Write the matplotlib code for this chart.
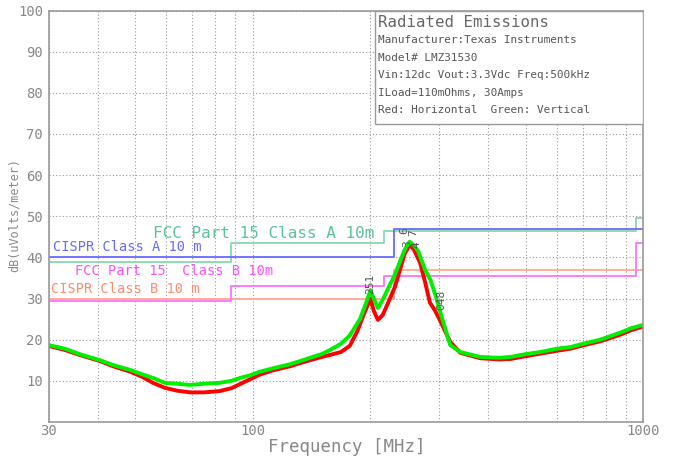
import numpy as np
import matplotlib
matplotlib.use("Agg")
import matplotlib.pyplot as plt
from matplotlib.patches import Rectangle

freq_green = [30, 33, 36, 40.6, 44, 48.3, 52, 55.5, 59.5, 64, 69, 75, 82, 88,
              92.6, 98, 104, 112, 124, 132, 140, 150, 157.6, 168, 177, 188, 195,
              200, 204, 209, 215, 222, 231, 238, 245, 252, 258, 265, 276, 285,
              293, 305, 320, 340, 382, 427, 456, 500, 544, 600, 650, 700, 775,
              872, 930, 1000]
green_db = [18.7, 17.8, 16.5, 15.0, 13.8, 12.7, 11.6, 10.7, 9.5, 9.3, 9.0, 9.3,
            9.5, 10.0, 10.7, 11.3, 12.2, 13.0, 14.0, 14.8, 15.6, 16.5, 17.5,
            19.0, 21.0, 25.0, 29.0, 32.0, 30.0, 27.7, 29.7, 32.5, 35.8, 39.0,
            42.0, 43.8, 43.0, 41.5, 37.0, 34.5, 31.0, 25.3, 18.7, 17.0, 15.8,
            15.6, 15.8, 16.5, 17.0, 17.8, 18.2, 19.0, 20.0, 21.7, 22.8, 23.6]

freq_red = [30, 33, 36, 40.6, 44, 48.3, 52, 55.5, 59.5, 64, 69, 75, 82, 88,
            92.6, 98, 104, 112, 124, 132, 140, 150, 157.6, 168, 177, 185, 192,
            200, 204, 209, 215, 222, 231, 238, 245, 252, 258, 268, 276, 284,
            293, 301, 320, 340, 382, 427, 456, 500, 544, 600, 650, 700, 775,
            872, 930, 1000]
red_db = [18.5, 17.5, 16.3, 14.8, 13.5, 12.3, 11.0, 9.5, 8.3, 7.6, 7.2, 7.2,
          7.5, 8.2, 9.2, 10.3, 11.5, 12.5, 13.5, 14.3, 15.0, 15.8, 16.3, 17.0,
          18.5, 22.0, 26.0, 30.0, 27.0, 24.8, 26.0, 29.0, 32.8, 37.0, 41.0,
          43.0, 42.0, 38.7, 34.0, 29.0, 27.0, 24.8, 19.5, 16.8, 15.5, 15.2,
          15.3, 16.0, 16.6, 17.3, 17.8, 18.6, 19.6, 21.2, 22.3, 23.2]

# limit lines (step edges in MHz, levels in dBuV/m)
cispr_a_f = [30, 230, 230, 1000]
cispr_a_db = [40, 40, 47, 47]
fcc_a_f = [30, 88, 88, 216, 216, 960, 960, 1000]
fcc_a_db = [39, 39, 43.5, 43.5, 46.4, 46.4, 49.5, 49.5]
fcc_b_f = [30, 88, 88, 216, 216, 960, 960, 1000]
fcc_b_db = [29.5, 29.5, 33.1, 33.1, 35.6, 35.6, 43.5, 43.5]
cispr_b_f = [30, 230, 230, 1000]
cispr_b_db = [30, 30, 37, 37]

info_lines = ["Manufacturer:Texas Instruments",
              "Model# LMZ31530",
              "Vin:12dc Vout:3.3Vdc Freq:500kHz",
              "ILoad=110mOhms, 30Amps",
              "Red: Horizontal  Green: Vertical"]

# peak markers: freq, level, label
mark_f = [200, 244, 257, 249, 262, 303]
mark_db = [33.5, 46.5, 46.0, 43.3, 43.0, 29.7]
mark_txt = ["251", "6", "7", "3", "4", "048"]

mono = "DejaVu Sans Mono"
grey = "#888888"

fig = plt.figure(figsize=(6.73, 4.61), dpi=100)
ax = fig.add_axes([0.0724, 0.0846, 0.8836, 0.8926])
ax.set_xscale("log")
ax.set_xlim(30, 1000)
ax.set_ylim(0, 100)

ax.set_xticks([30, 100, 1000])
ax.set_xticklabels(["30", "100", "1000"])
ax.set_xticks([40, 50, 60, 70, 80, 90, 200, 300, 400, 500, 600, 700, 800, 900], minor=True)
ax.xaxis.set_minor_formatter(matplotlib.ticker.NullFormatter())
ax.set_yticks(range(10, 101, 10))
ax.tick_params(which="both", length=0, colors=grey, labelsize=10)
ax.tick_params(axis="x", pad=1.5)
ax.tick_params(axis="y", pad=4)
for lab in ax.get_xticklabels() + ax.get_yticklabels():
    lab.set_family(mono)
ax.grid(True, which="both", color="#999999", linestyle=(0, (1, 2)), linewidth=0.8)
for s in ax.spines.values():
    s.set_color("#999999")
    s.set_linewidth(1.2)

ax.plot(cispr_b_f, cispr_b_db, color="#ffa890", lw=1.3)
ax.plot(fcc_b_f, fcc_b_db, color="#ff70ff", lw=1.3)
ax.plot(fcc_a_f, fcc_a_db, color="#88d8b0", lw=1.3)
ax.plot(cispr_a_f, cispr_a_db, color="#6a6aff", lw=1.3)

ax.plot(freq_red, red_db, color="#ff0000", lw=2.8)
ax.plot(freq_green, green_db, color="#00ee00", lw=2.8)

ax.text(55.5, 45.7, "FCC Part 15 Class A 10m", color="#5cc498", family=mono,
        fontsize=11.5, va="center")
ax.text(30.8, 42.6, "CISPR Class A 10 m", color="#6a6aff", family=mono,
        fontsize=9.8, va="center")
ax.text(35.0, 36.7, "FCC Part 15  Class B 10m", color="#ff50ff", family=mono,
        fontsize=9.8, va="center")
ax.text(30.4, 32.4, "CISPR Class B 10 m", color="#ff8c70", family=mono,
        fontsize=9.8, va="center")

for f, d, t in zip(mark_f, mark_db, mark_txt):
    ax.text(f, d, t, rotation=90, color="#555555", family=mono, fontsize=8,
            ha="center", va="center")

ax.add_patch(Rectangle((0.549, 0.724), 0.451, 0.276, transform=ax.transAxes,
                       facecolor="white", edgecolor="#999999", lw=1.0, zorder=5))
ax.text(0.554, 0.972, "Radiated Emissions", transform=ax.transAxes, family=mono,
        fontsize=11.3, color="#666666", va="center", zorder=6)
for i, line in enumerate(info_lines):
    ax.text(0.554, 0.928 - i * 0.0425, line, transform=ax.transAxes, family=mono,
            fontsize=7.9, color="#555555", va="center", zorder=6)

ax.set_xlabel("Frequency [MHz]", family=mono, fontsize=12.5, color=grey, va="center")
ax.xaxis.set_label_coords(0.502, -0.061)
ax.set_ylabel("dB(uVolts/meter)", family=mono, fontsize=8.5, color=grey, va="center")
ax.yaxis.set_label_coords(-0.058, 0.503)

fig.savefig("out.png", dpi=100)
